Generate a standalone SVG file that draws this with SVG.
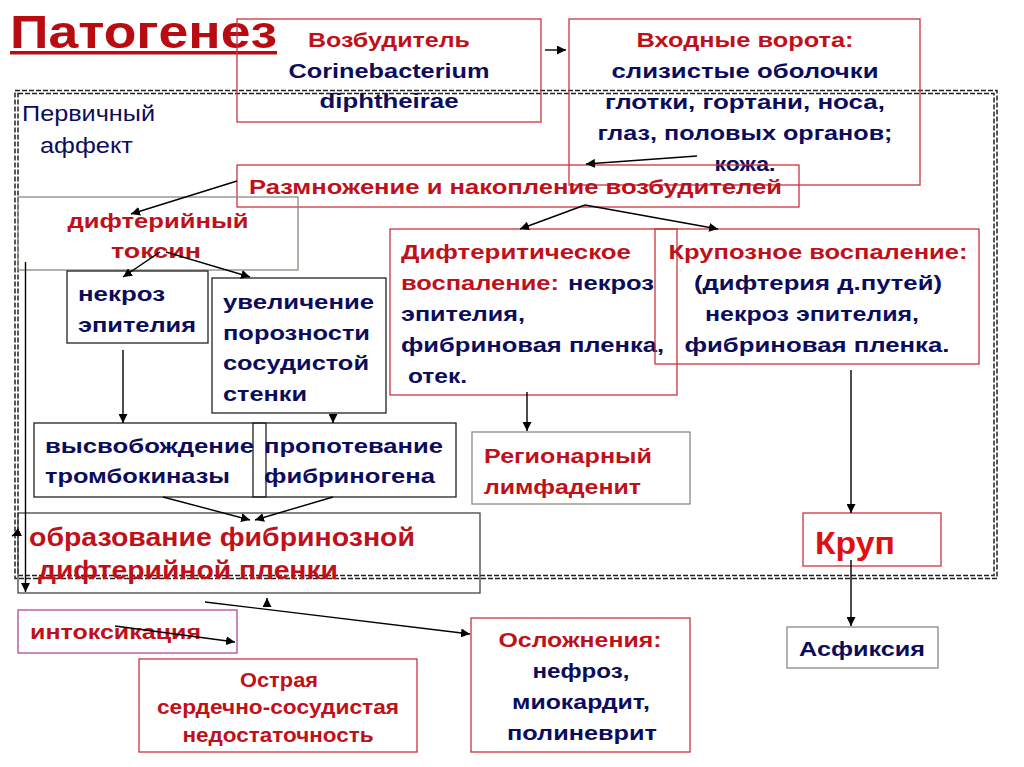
<svg xmlns="http://www.w3.org/2000/svg" width="1024" height="767" viewBox="0 0 1024 767">
<defs>
<marker id="ah" viewBox="0 0 10 10" refX="10" refY="5" markerWidth="9" markerHeight="9" markerUnits="userSpaceOnUse" orient="auto">
<path d="M0,0 L10,5 L0,10 z" fill="#000"/>
</marker>
<style>
text{font-family:"Liberation Sans",Arial,sans-serif;font-weight:bold;font-size:21px}
.r{fill:#c0101a}
.n{fill:#0c0c5c}
.c{text-anchor:middle}
.bx{fill:none;stroke-width:1.3}
.red{stroke:#c8343c}
.blk{stroke:#222}
.gry{stroke:#8a8a80}
.dk{stroke:#444}
.pur{stroke:#b046b0}
.ln{stroke:#000;stroke-width:1.4;fill:none;marker-end:url(#ah)}
.dash{fill:none;stroke:#222;stroke-width:1.5;stroke-dasharray:5 2}
</style>
</defs>
<rect width="1024" height="767" fill="#fff"/>

<g id="frame">
<rect class="dash" x="15" y="90.5" width="982" height="488"/>
<rect class="dash" x="18" y="93.5" width="976" height="482"/>
</g>

<g id="title">
<text x="10" y="48" style="font-size:46px;fill:#b80c12" textLength="267" lengthAdjust="spacingAndGlyphs">Патогенез</text>
<rect x="10" y="51" width="267" height="3.5" fill="#b80c12"/>
</g>

<g id="affect">
<text x="22" y="121" class="n" style="font-weight:normal;font-size:22px" textLength="133" lengthAdjust="spacingAndGlyphs">Первичный</text>
<text x="40" y="153" class="n" style="font-weight:normal;font-size:22px" textLength="93" lengthAdjust="spacingAndGlyphs">аффект</text>
</g>

<g id="n-vozbuditel">
<rect class="bx red" x="237" y="19" width="304" height="103"/>
<text x="389" y="47" class="r c" textLength="162" lengthAdjust="spacingAndGlyphs">Возбудитель</text>
<text x="389" y="78" class="n c" textLength="201" lengthAdjust="spacingAndGlyphs">Corinebacterium</text>
<text x="389" y="108" class="n c" textLength="139" lengthAdjust="spacingAndGlyphs">diphtheirae</text>
</g>

<g id="n-vorota">
<rect class="bx red" x="569" y="19" width="351" height="166"/>
<text x="745" y="47" class="r c" textLength="217" lengthAdjust="spacingAndGlyphs">Входные ворота:</text>
<text x="745" y="78" class="n c" textLength="267" lengthAdjust="spacingAndGlyphs">слизистые оболочки</text>
<text x="745" y="109" class="n c" textLength="280" lengthAdjust="spacingAndGlyphs">глотки, гортани, носа,</text>
<text x="745" y="140" class="n c" textLength="295" lengthAdjust="spacingAndGlyphs">глаз, половых органов;</text>
<text x="745" y="171" class="n c" textLength="61" lengthAdjust="spacingAndGlyphs">кожа.</text>
</g>

<g id="n-razmnozh">
<rect class="bx red" x="237" y="165" width="562" height="42"/>
<text x="249" y="194" class="r" textLength="533" lengthAdjust="spacingAndGlyphs">Размножение и накопление возбудителей</text>
</g>

<g id="n-toksin">
<rect class="bx gry" x="18" y="197" width="280" height="73"/>
<text x="158" y="228" class="r c" textLength="181" lengthAdjust="spacingAndGlyphs">дифтерийный</text>
<text x="156" y="258" class="r c" textLength="90" lengthAdjust="spacingAndGlyphs">токсин</text>
</g>

<g id="n-nekroz">
<rect class="bx blk" x="67" y="271" width="141" height="72"/>
<text x="78" y="301" class="n" textLength="87" lengthAdjust="spacingAndGlyphs">некроз</text>
<text x="78" y="332" class="n" textLength="118" lengthAdjust="spacingAndGlyphs">эпителия</text>
</g>

<g id="n-poroz">
<rect class="bx blk" x="212" y="278" width="174" height="135"/>
<text x="223" y="309" class="n" textLength="151" lengthAdjust="spacingAndGlyphs">увеличение</text>
<text x="223" y="340" class="n" textLength="147" lengthAdjust="spacingAndGlyphs">порозности</text>
<text x="223" y="370" class="n" textLength="146" lengthAdjust="spacingAndGlyphs">сосудистой</text>
<text x="223" y="401" class="n" textLength="84" lengthAdjust="spacingAndGlyphs">стенки</text>
</g>

<g id="n-vysvob">
<rect class="bx blk" x="34" y="423" width="232" height="74"/>
<text x="45" y="453" class="n" textLength="209" lengthAdjust="spacingAndGlyphs">высвобождение</text>
<text x="45" y="483" class="n" textLength="185" lengthAdjust="spacingAndGlyphs">тромбокиназы</text>
</g>

<g id="n-propot">
<rect class="bx blk" x="253" y="423" width="203" height="74"/>
<text x="264" y="453" class="n" textLength="179" lengthAdjust="spacingAndGlyphs">пропотевание</text>
<text x="264" y="483" class="n" textLength="171" lengthAdjust="spacingAndGlyphs">фибриногена</text>
</g>

<g id="n-difter">
<rect class="bx red" x="390" y="229" width="287" height="166"/>
<text x="401" y="259" class="r" textLength="230" lengthAdjust="spacingAndGlyphs">Дифтеритическое</text>
<text x="401" y="290" class="r" textLength="158" lengthAdjust="spacingAndGlyphs">воспаление:</text>
<text x="568" y="290" class="n" textLength="86" lengthAdjust="spacingAndGlyphs">некроз</text>
<text x="401" y="321" class="n" textLength="124" lengthAdjust="spacingAndGlyphs">эпителия,</text>
<text x="401" y="352" class="n" textLength="263" lengthAdjust="spacingAndGlyphs">фибриновая пленка,</text>
<text x="408" y="383" class="n" textLength="59" lengthAdjust="spacingAndGlyphs">отек.</text>
</g>

<g id="n-krupoz">
<rect class="bx red" x="655" y="229" width="324" height="135"/>
<text x="818" y="259" class="r c" textLength="299" lengthAdjust="spacingAndGlyphs">Крупозное воспаление:</text>
<text x="818" y="290" class="n c" textLength="248" lengthAdjust="spacingAndGlyphs">(дифтерия д.путей)</text>
<text x="812" y="321" class="n c" textLength="214" lengthAdjust="spacingAndGlyphs">некроз эпителия,</text>
<text x="817" y="352" class="n c" textLength="265" lengthAdjust="spacingAndGlyphs">фибриновая пленка.</text>
</g>

<g id="n-limf">
<rect class="bx gry" x="472" y="432" width="218" height="72"/>
<text x="484" y="463" class="r" textLength="168" lengthAdjust="spacingAndGlyphs">Регионарный</text>
<text x="484" y="494" class="r" textLength="157" lengthAdjust="spacingAndGlyphs">лимфаденит</text>
</g>

<g id="n-plenka">
<rect class="bx dk" x="18" y="513" width="462" height="80"/>
<text x="29" y="546" class="r" style="font-size:26px" textLength="386" lengthAdjust="spacingAndGlyphs">образование фибринозной</text>
<text x="38" y="579" class="r" style="font-size:26px" textLength="300" lengthAdjust="spacingAndGlyphs">дифтерийной пленки</text>
</g>

<g id="n-krup">
<rect class="bx red" x="803" y="513" width="138" height="53"/>
<text x="815" y="554" style="font-size:31px;fill:#e01010" textLength="80" lengthAdjust="spacingAndGlyphs">Круп</text>
</g>

<g id="n-intox">
<rect class="bx pur" x="18" y="610" width="219" height="43"/>
<text x="30" y="639" class="r" textLength="171" lengthAdjust="spacingAndGlyphs">интоксикация</text>
</g>

<g id="n-ossn">
<rect class="bx red" x="139" y="659" width="278" height="93"/>
<text x="279" y="687" class="r c" style="font-size:20px" textLength="78" lengthAdjust="spacingAndGlyphs">Острая</text>
<text x="278" y="714" class="r c" style="font-size:20px" textLength="242" lengthAdjust="spacingAndGlyphs">сердечно-сосудистая</text>
<text x="278" y="742" class="r c" style="font-size:20px" textLength="191" lengthAdjust="spacingAndGlyphs">недостаточность</text>
</g>

<g id="n-oslozh">
<rect class="bx red" x="471" y="618" width="219" height="134"/>
<text x="580" y="647" class="r c" textLength="163" lengthAdjust="spacingAndGlyphs">Осложнения:</text>
<text x="581" y="678" class="n c" textLength="97" lengthAdjust="spacingAndGlyphs">нефроз,</text>
<text x="581" y="709" class="n c" textLength="138" lengthAdjust="spacingAndGlyphs">миокардит,</text>
<text x="582" y="740" class="n c" textLength="150" lengthAdjust="spacingAndGlyphs">полиневрит</text>
</g>

<g id="n-asfiks">
<rect class="bx gry" x="787" y="627" width="151" height="41"/>
<text x="862" y="656" class="n c" textLength="126" lengthAdjust="spacingAndGlyphs">Асфиксия</text>
</g>

<g id="connectors">
<line class="ln" x1="545" y1="50" x2="566" y2="50"/>
<line class="ln" x1="697" y1="156" x2="586" y2="164"/>
<line class="ln" x1="237" y1="181" x2="131" y2="214"/>
<line class="ln" x1="585" y1="205" x2="520" y2="229"/>
<line class="ln" x1="585" y1="205" x2="718" y2="229"/>
<line class="ln" x1="160" y1="252" x2="123" y2="277"/>
<line class="ln" x1="166" y1="252" x2="250" y2="277"/>
<line class="ln" x1="123" y1="350" x2="123" y2="423"/>
<line class="ln" x1="333" y1="414" x2="333" y2="423"/>
<line class="ln" x1="163" y1="497" x2="250" y2="520"/>
<line class="ln" x1="333" y1="497" x2="255" y2="520"/>
<line class="ln" x1="527" y1="392" x2="527" y2="431"/>
<line class="ln" x1="851" y1="370" x2="851" y2="513"/>
<line class="ln" x1="851" y1="560" x2="851" y2="626"/>
<line class="ln" x1="25.5" y1="262" x2="25.5" y2="592"/>
<line class="ln" x1="20" y1="532" x2="12" y2="536"/>
<line class="ln" x1="205" y1="602" x2="470" y2="634"/>
<line class="ln" x1="267" y1="606" x2="267" y2="598"/>
<line class="ln" x1="115" y1="626" x2="235" y2="642"/>
</g>
</svg>
